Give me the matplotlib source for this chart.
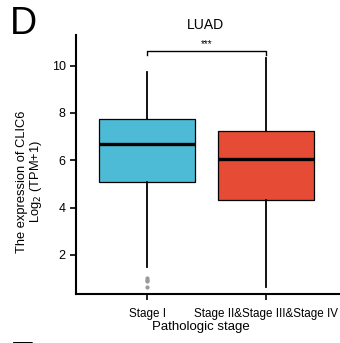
import matplotlib.pyplot as plt

plt.rcParams['font.family'] = ['Liberation Sans', 'DejaVu Sans']

# summary statistics per pathologic stage group
groups = ['Stage I', 'Stage II&Stage III&Stage IV']
medians = [6.67, 6.04]
q1 = [5.06, 4.33]
q3 = [7.76, 7.25]
whisker_low = [1.48, 0.62]
whisker_high = [9.72, 10.33]
outliers = [[1.02, 0.94, 0.87, 0.62], []]
colors = ['#4DBBD5', '#E64B35']
signif = '***'
bracket_y = 10.61

stats = []
for i, g in enumerate(groups):
    stats.append(dict(label=g, med=medians[i], q1=q1[i], q3=q3[i],
                      whislo=whisker_low[i], whishi=whisker_high[i],
                      fliers=outliers[i]))

fig = plt.figure(figsize=(3.4, 3.43), dpi=100)
ax = fig.add_axes([0.2235, 0.1429, 0.7765, 0.755])

bp = ax.bxp(stats, positions=[1, 2], widths=0.81, patch_artist=True,
            showcaps=False,
            boxprops=dict(edgecolor='black', linewidth=0.9),
            medianprops=dict(color='black', linewidth=2.4),
            whiskerprops=dict(color='black', linewidth=1.3),
            flierprops=dict(marker='o', markersize=2.0, markerfacecolor='#9a9a9a',
                            markeredgecolor='#9a9a9a'))
for patch, c in zip(bp['boxes'], colors):
    patch.set_facecolor(c)

# significance bracket
ax.plot([1, 1, 2, 2], [bracket_y - 0.15, bracket_y, bracket_y, bracket_y - 0.15],
        color='black', linewidth=1.0)
ax.text(1.5, bracket_y + 0.08, signif, ha='center', va='bottom', fontsize=7)

ax.set_xlim(0.403, 2.62)
ax.set_ylim(0.34, 11.3)
ax.set_yticks([2, 4, 6, 8, 10])
ax.set_xticks([1, 2])
ax.set_xticklabels(groups)
ax.tick_params(axis='y', labelsize=9, width=1.2, length=4.5, color='black', pad=3)
ax.tick_params(axis='x', labelsize=8.4, width=1.2, length=4.5, pad=5.5)
for s in ['top', 'right']:
    ax.spines[s].set_visible(False)
for s in ['left', 'bottom']:
    ax.spines[s].set_linewidth(1.5)

ax.text(0.492, 1.023, 'LUAD', transform=ax.transAxes, ha='center',
        va='baseline', fontsize=10)
ax.set_xlabel('Pathologic stage', fontsize=9.5)
ax.xaxis.set_label_coords(0.473, -0.105)
ax.set_ylabel('The expression of CLIC6\nLog$_2$ (TPM+1)', fontsize=9.3,
              linespacing=1.0)
ax.yaxis.set_label_coords(-0.12, 0.435)

fig.text(0.028, 0.9, 'D', fontsize=27)
fig.text(0.03, -0.075, 'E', fontsize=27)

fig.savefig('out.png', dpi=100)
